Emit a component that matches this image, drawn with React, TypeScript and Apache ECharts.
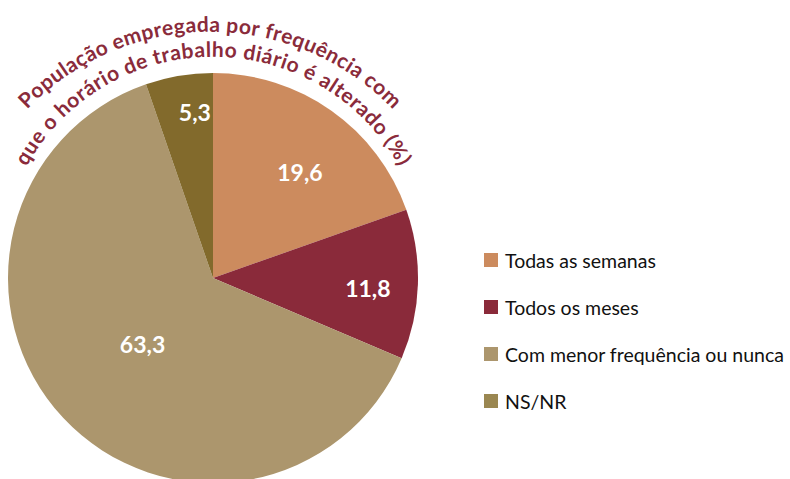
import React, { useEffect, useRef } from "react";
import * as echarts from "echarts";

const categories = [
  "Todas as semanas",
  "Todos os meses",
  "Com menor frequência ou nunca",
  "NS/NR",
];
const values = [19.6, 11.8, 63.3, 5.3];
const sliceColors = ["#CC8B5E", "#8A2A3A", "#AC966D", "#826A2C"];
const legendColors = ["#CC8B5E", "#8A2A3A", "#AC966D", "#9A8751"];
const titleLines = [
  "População empregada por frequência com",
  "que o horário de trabalho diário é alterado (%)",
];

const CX = 213;
const CY = 278;
const R = 205;
const labelRadiusFrac = [0.67, 0.757, 0.47, 0.815];
const labelAngleShift = [4, 2, 0, 3.3];
const TITLE_COLOR = "#8A2B3B";
const TITLE_SIZE = 21;
const FONT = "Lato, 'Open Sans', sans-serif";

const arcs = [
  { cx: 210, cy: 286, r: 256, a0: -46, a1: 46 },
  { cx: 213, cy: 270, r: 215, a0: -61, a1: 61 },
];

function arcText(text: string, arc: any, size: number, color: string) {
  const canvas = document.createElement("canvas");
  const ctx = canvas.getContext("2d") as CanvasRenderingContext2D;
  ctx.font = `bold ${size}px Lato`;
  const chars = Array.from(text);
  const widths = chars.map((c) => ctx.measureText(c).width);
  const W = widths.reduce((a, b) => a + b, 0);
  const L = (arc.r * (arc.a1 - arc.a0) * Math.PI) / 180;
  const sp = (L - W) / (chars.length - 1);
  let s = 0;
  const els: any[] = [];
  chars.forEach((c, i) => {
    const mid = s + widths[i] / 2;
    s += widths[i] + sp;
    if (c === " ") return;
    const th = (arc.a0 * Math.PI) / 180 + mid / arc.r;
    const rr = arc.r + size * 0.32;
    els.push({
      type: "text",
      x: arc.cx + rr * Math.sin(th),
      y: arc.cy - rr * Math.cos(th),
      rotation: -th,
      silent: true,
      style: {
        text: c,
        fill: color,
        fontSize: size,
        fontWeight: "bold",
        fontFamily: FONT,
        align: "center",
        verticalAlign: "middle",
      },
    });
  });
  return els;
}

export default function App() {
  const ref = useRef<HTMLDivElement>(null);
  useEffect(() => {
    if (!ref.current) return;
    const chart = echarts.init(ref.current, undefined, { renderer: "svg" });
    const total = values.reduce((a, b) => a + b, 0);
    const graphics: any[] = [];
    titleLines.forEach((t, i) => {
      graphics.push(...arcText(t, arcs[i], TITLE_SIZE, TITLE_COLOR));
    });
    chart.setOption({
      animation: false,
      backgroundColor: "#ffffff",
      legend: {
        orient: "vertical",
        left: 479,
        top: 245,
        itemWidth: 14,
        itemHeight: 14,
        itemGap: 27,
        icon: "rect",
        selectedMode: false,
        textStyle: {
          fontFamily: FONT,
          fontSize: 19.5,
          color: "#111111",
          lineHeight: 20,
          padding: [0, 0, 0, 2],
        },
        data: categories.map((c, i) => ({
          name: c,
          itemStyle: { color: legendColors[i] },
        })),
      },
      graphic: graphics,
      series: [
        {
          type: "pie",
          center: [CX, CY],
          radius: R,
          startAngle: 90,
          clockwise: true,
          silent: true,
          emphasis: { disabled: true },
          itemStyle: { borderWidth: 0 },
          labelLine: { show: false },
          label: {
            show: true,
            position: "inside",
            color: "#ffffff",
            fontSize: 23,
            fontWeight: "bold",
            fontFamily: FONT,
            formatter: (p: any) => Number(p.value).toFixed(1).replace(".", ","),
          },
          labelLayout: (p: any) => {
            const i = p.dataIndex;
            let start = 0;
            for (let k = 0; k < i; k++) start += values[k];
            const mid =
              ((start + values[i] / 2) / total) * 2 * Math.PI +
              (labelAngleShift[i] * Math.PI) / 180;
            const rr = labelRadiusFrac[i] * R;
            return {
              x: CX + rr * Math.sin(mid),
              y: CY - rr * Math.cos(mid),
              align: "center",
              verticalAlign: "middle",
            };
          },
          data: categories.map((c, i) => ({
            name: c,
            value: values[i],
            itemStyle: { color: sliceColors[i] },
          })),
        },
      ],
    });
    return () => chart.dispose();
  }, []);
  return (
    <div
      ref={ref}
      style={{ position: "fixed", left: 0, top: 0, width: 790, height: 479 }}
    />
  );
}
